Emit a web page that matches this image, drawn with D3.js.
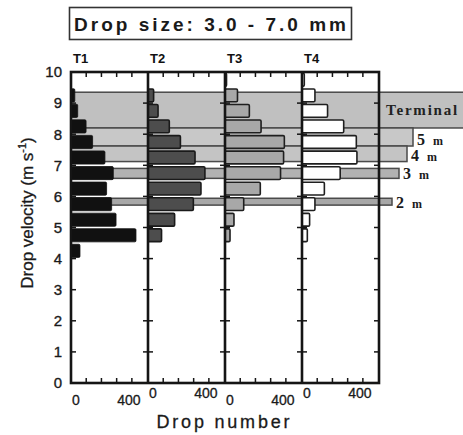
<!DOCTYPE html>
<html><head><meta charset="utf-8">
<script src="https://cdn.jsdelivr.net/npm/d3@7/dist/d3.min.js"></script>
<style>
html,body{margin:0;padding:0;background:#fff;}
svg{display:block;}
</style></head>
<body>
<svg id="chart" width="463" height="435"></svg>
<script>
// ---- data ----
const title = "Drop size: 3.0 - 7.0 mm";
const panelNames = ["T1", "T2", "T3", "T4"];
const binStarts = [4.0, 4.5, 5.0, 5.5, 6.0, 6.5, 7.0, 7.5, 8.0, 8.5, 9.0, 9.5];
const binWidth = 0.5;
const t1Counts = [59, 427, 296, 267, 234, 278, 223, 142, 99, 44, 25, 0];
const t2Counts = [0, 89, 175, 298, 348, 374, 309, 213, 140, 66, 37, 0];
const t3Counts = [0, 33, 59, 123, 232, 365, 385, 390, 237, 160, 82, 10];
const t4Counts = [0, 35, 50, 85, 147, 251, 361, 357, 274, 168, 85, 15];
const bandNames = ["Terminal", "5", "4", "3", "2"];
const bandLow = [8.2, 7.62, 7.12, 6.58, 5.72];
const bandHigh = [9.35, 8.2, 7.62, 6.9, 5.94];
const yTicks = [0, 1, 2, 3, 4, 5, 6, 7, 8, 9, 10];
const xTickLabels = [0, 400];
const xMinorTicks = [100, 200, 300, 400];
const yTitle = "Drop velocity (m s";
const xTitle = "Drop number";

// ---- layout ----
const svg = d3.select("#chart");
const plotL = 71, panelW = 77, plotT = 72, plotB = 383;
const plotR = plotL + panelW * 4;
const y = d3.scaleLinear().domain([0, 10]).range([plotB, plotT]);
const xs = panelNames.map((n, i) => d3.scaleLinear().domain([0, 506]).range([plotL + i * panelW, plotL + (i + 1) * panelW]));
const seriesCounts = [t1Counts, t2Counts, t3Counts, t4Counts];
const barFill = ["#111", "#4d4d4d", "#a8a8a8", "#fff"];
const barStroke = ["#111", "#1a1a1a", "#1f1f1f", "#1f1f1f"];
const bandFill = ["#c0c0c0", "#c8c8c8", "#c4c4c4", "#b2b2b2", "#a8a8a8"];
const bandRightExt = [200, 34, 28, 20, 13];
const bandLabelDy = [0, 3, 2, 1, 1];
const sans = "Liberation Sans, Arial, sans-serif";
const serif = "Liberation Serif, Times New Roman, serif";

// title box
svg.append("rect").attr("x", 69.5).attr("y", 7.5).attr("width", 282).attr("height", 32)
  .attr("fill", "#fff").attr("stroke", "#333").attr("stroke-width", 1.6);
svg.append("text").attr("x", 74).attr("y", 31)
  .attr("font-family", sans).attr("font-weight", "bold")
  .attr("font-size", 19).attr("fill", "#1a1a1a")
  .attr("textLength", 272).attr("lengthAdjust", "spacing").text(title);

// panel labels
panelNames.forEach((n, i) => {
  svg.append("text").attr("x", xs[i](0) + 2).attr("y", 63)
    .attr("font-family", sans).attr("font-weight", "bold")
    .attr("font-size", 13).attr("fill", "#111").text(n);
});

// bands
const bandG = svg.append("g");
bandNames.forEach((n, i) => {
  const x1 = plotR + bandRightExt[i];
  bandG.append("rect").attr("x", plotL).attr("y", y(bandHigh[i]))
    .attr("width", x1 - plotL).attr("height", y(bandLow[i]) - y(bandHigh[i]))
    .attr("fill", bandFill[i]).attr("stroke", "#4a4a4a").attr("stroke-width", 1.5);
});

// bars
seriesCounts.forEach((counts, s) => {
  const g = svg.append("g");
  const x = xs[s];
  binStarts.forEach((b, k) => {
    const v = counts[k];
    if (!v) return;
    const top = y(b + binWidth), bot = y(b);
    const dark = s === 0;
    g.append("rect")
      .attr("x", x(0))
      .attr("y", top + (dark ? 1.2 : 1.4))
      .attr("width", Math.max(x(v) - x(0), 1))
      .attr("height", bot - top - (dark ? 2.4 : 2.8))
      .attr("rx", 1.2)
      .attr("fill", barFill[s]).attr("stroke", barStroke[s]).attr("stroke-width", dark ? 0.8 : 1.6);
  });
});

// frame and dividers
const frameC = "#151515";
svg.append("rect").attr("x", plotL).attr("y", plotT).attr("width", plotR - plotL).attr("height", plotB - plotT)
  .attr("fill", "none").attr("stroke", frameC).attr("stroke-width", 2.6);
for (let i = 1; i < 4; i++) {
  svg.append("line").attr("x1", xs[i](0)).attr("x2", xs[i](0)).attr("y1", plotT).attr("y2", plotB)
    .attr("stroke", frameC).attr("stroke-width", 2.6);
}

// y ticks
const tickG = svg.append("g").attr("stroke", frameC).attr("stroke-width", 1.5);
yTicks.forEach(t => {
  if (t === 0 || t === 10) return;
  const yy = y(t);
  tickG.append("line").attr("x1", plotL).attr("x2", plotL + 5).attr("y1", yy).attr("y2", yy);
  tickG.append("line").attr("x1", plotR - 5).attr("x2", plotR).attr("y1", yy).attr("y2", yy);
  for (let i = 1; i < 4; i++) {
    const xx = xs[i](0);
    tickG.append("line").attr("x1", xx - 5).attr("x2", xx + 5).attr("y1", yy).attr("y2", yy);
  }
});
// x ticks (top and bottom)
xs.forEach(x => {
  xMinorTicks.forEach(t => {
    tickG.append("line").attr("x1", x(t)).attr("x2", x(t)).attr("y1", plotT).attr("y2", plotT + 5);
    tickG.append("line").attr("x1", x(t)).attr("x2", x(t)).attr("y1", plotB - 5).attr("y2", plotB);
  });
});

// y tick labels
const yAxis = d3.axisLeft(y).tickValues(yTicks).tickSize(0).tickPadding(0).tickFormat(d3.format("d"));
const yAx = svg.append("g").attr("transform", "translate(62,0)").call(yAxis);
yAx.select(".domain").remove();
yAx.selectAll("text").attr("font-family", sans).attr("font-size", 15).attr("fill", "#1a1a1a")
  .attr("stroke", "#1a1a1a").attr("stroke-width", 0.35);

// x tick labels
xs.forEach((x, i) => {
  const raised = (i % 2 === 1) ? -7 : 0;
  xTickLabels.forEach(t => {
    svg.append("text")
      .attr("x", t === 0 ? x(t) + 5 : x(t) - 3)
      .attr("y", 405 + raised)
      .attr("text-anchor", "middle")
      .attr("font-family", sans).attr("font-size", 14).attr("fill", "#1a1a1a")
      .attr("stroke", "#1a1a1a").attr("stroke-width", 0.3)
      .text(t);
  });
});

// axis titles
svg.append("text").attr("x", 223).attr("y", 428).attr("text-anchor", "middle")
  .attr("font-family", sans).attr("font-size", 18).attr("fill", "#1a1a1a")
  .attr("stroke", "#1a1a1a").attr("stroke-width", 0.3)
  .attr("textLength", 133).attr("lengthAdjust", "spacing").text(xTitle);
const yt = svg.append("text").attr("transform", "translate(33,213) rotate(-90)").attr("text-anchor", "middle")
  .attr("font-family", sans).attr("font-size", 17).attr("fill", "#1a1a1a")
  .attr("stroke", "#1a1a1a").attr("stroke-width", 0.3);
yt.append("tspan").text(yTitle);
yt.append("tspan").attr("font-size", 11).attr("dy", -7).text("-1");
yt.append("tspan").attr("dy", 7).text(")");

// band labels
bandNames.forEach((n, i) => {
  const yy = (y(bandHigh[i]) + y(bandLow[i])) / 2 + bandLabelDy[i];
  if (i === 0) {
    svg.append("text").attr("x", 386).attr("y", yy + 5)
      .attr("font-family", serif).attr("font-weight", "bold")
      .attr("font-size", 15).attr("letter-spacing", 1.8).attr("fill", "#222").text(n);
  } else {
    const t = svg.append("text").attr("x", plotR + bandRightExt[i] + 4).attr("y", yy + 5)
      .attr("font-family", serif).attr("font-weight", "bold")
      .attr("fill", "#1a1a1a");
    t.append("tspan").attr("font-size", 16).text(n);
    t.append("tspan").attr("font-size", 12).attr("dx", 8).text("m");
  }
});
</script>
</body></html>
